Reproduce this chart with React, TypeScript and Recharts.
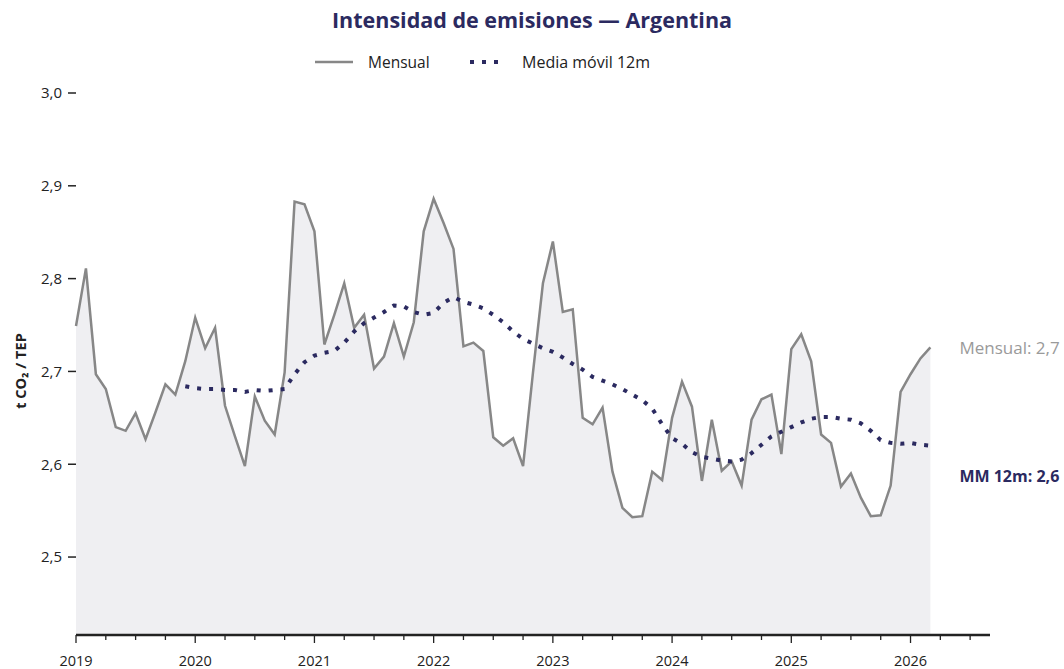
import React from 'react';
import { ComposedChart, Area, Line, XAxis, YAxis, LabelList } from 'recharts';

const START_YEAR = 2019;

// t CO2 / TEP, mensual (ene 2019 – mar 2026)
const mensual = [
  2.749, 2.811, 2.697, 2.681, 2.640, 2.636, 2.655, 2.627, 2.656, 2.686, 2.675, 2.711,
  2.758, 2.725, 2.747, 2.663, 2.630, 2.598, 2.673, 2.647, 2.632, 2.699, 2.883, 2.880,
  2.851, 2.729, 2.761, 2.795, 2.747, 2.761, 2.703, 2.716, 2.752, 2.716, 2.753, 2.851,
  2.886, 2.860, 2.832, 2.727, 2.731, 2.722, 2.629, 2.620, 2.628, 2.598, 2.699, 2.795,
  2.840, 2.764, 2.767, 2.650, 2.643, 2.661, 2.592, 2.553, 2.543, 2.544, 2.592, 2.583,
  2.650, 2.689, 2.662, 2.582, 2.648, 2.593, 2.603, 2.577, 2.648, 2.670, 2.675, 2.611,
  2.724, 2.740, 2.711, 2.632, 2.623, 2.576, 2.590, 2.564, 2.544, 2.545, 2.577, 2.678,
  2.697, 2.714, 2.726,
];

// media móvil 12 meses (desde dic 2019)
const mediaMovil = [
  2.684,
  2.682, 2.681, 2.681, 2.680, 2.680, 2.678, 2.680, 2.679, 2.680, 2.681, 2.697, 2.710,
  2.717, 2.720, 2.722, 2.731, 2.743, 2.752, 2.758, 2.764, 2.771, 2.770, 2.764, 2.761,
  2.763, 2.774, 2.780, 2.775, 2.772, 2.768, 2.761, 2.753, 2.743, 2.735, 2.730, 2.725,
  2.721, 2.715, 2.708, 2.702, 2.694, 2.690, 2.686, 2.681, 2.675, 2.669, 2.660, 2.643,
  2.628, 2.622, 2.613, 2.608, 2.606, 2.604, 2.603, 2.605, 2.612, 2.621, 2.630, 2.635,
  2.640, 2.645, 2.649, 2.651, 2.651, 2.649, 2.648, 2.644, 2.636, 2.626, 2.623, 2.622,
  2.623, 2.621, 2.620,
];
const MM_START = 11;

const yTicks = [2.5, 2.6, 2.7, 2.8, 2.9, 3.0];
const xTicks = Array.from({ length: 31 }, (_, k) => k * 3);

const data = mensual.map((v, i) => ({
  i,
  mensual: v,
  mm: i >= MM_START ? mediaMovil[i - MM_START] : null,
}));

const LAST = mensual.length - 1;
const FONT = '"Open Sans", sans-serif';
const NAVY = '#2b2a60';
const GRAY = '#878787';

const fmt = (v: number, d = 1) => v.toFixed(d).replace('.', ',');

const XTick = (props: any) => {
  const { x, y, payload } = props;
  const isYear = payload.value % 12 === 0;
  return (
    <g>
      <line x1={x} x2={x} y1={y} y2={y + (isYear ? 8 : 5)} stroke="#222" strokeWidth={1.3} />
      {isYear && (
        <text x={x} y={y + 31} textAnchor="middle" fontSize={14.5} fill="#222" fontFamily={FONT}>
          {START_YEAR + payload.value / 12}
        </text>
      )}
    </g>
  );
};

const EndLabel = (offsetY: number, text: string, color: string, bold: boolean, size: number) => (props: any) => {
  if (props.index !== LAST) return null;
  return (
    <text
      x={props.x + 29}
      y={props.y + offsetY}
      dominantBaseline="central"
      fontSize={size}
      fontWeight={bold ? 700 : 400}
      fill={color}
      fontFamily={FONT}
    >
      {text}
    </text>
  );
};

export default function App() {
  return (
    <div style={{ position: 'absolute', left: 0, top: 0, width: 1064, height: 669, background: '#fff' }}>
      <ComposedChart
        width={1064}
        height={669}
        data={data}
        margin={{ top: 93, right: 74, left: 16, bottom: 4 }}
      >
        <XAxis
          dataKey="i"
          type="number"
          domain={[0, 92]}
          ticks={xTicks}
          interval={0}
          tickSize={0}
          tickMargin={0}
          tickLine={false}
          axisLine={{ stroke: '#222', strokeWidth: 2.5 }}
          tick={<XTick />}
          height={30}
        />
        <YAxis
          type="number"
          domain={[2.416, 3.0]}
          ticks={yTicks}
          allowDataOverflow
          width={60}
          axisLine={false}
          tickSize={8}
          tickMargin={6}
          tickLine={{ stroke: '#222', strokeWidth: 1.5 }}
          tick={{ fontSize: 15, fill: '#222', fontFamily: FONT }}
          tickFormatter={(v: number) => fmt(v)}
          label={{
            content: () => (
              <text
                x={20}
                y={371}
                transform="rotate(-90 20 371)"
                textAnchor="middle"
                dominantBaseline="central"
                fontSize={14.5}
                fontWeight={700}
                fill="#222"
                fontFamily={FONT}
              >
                t CO₂ / TEP
              </text>
            ),
          }}
        />
        <Area
          type="linear"
          dataKey="mensual"
          stroke={GRAY}
          strokeWidth={2.5}
          fill="#efeff2"
          fillOpacity={1}
          dot={false}
          activeDot={false}
          isAnimationActive={false}
        >
          <LabelList dataKey="mensual" content={EndLabel(0, `Mensual: ${fmt(mensual[LAST])}`, '#9a9a9a', false, 17)} />
        </Area>
        <Line
          type="linear"
          dataKey="mm"
          stroke={NAVY}
          strokeWidth={4}
          strokeDasharray="4 8"
          dot={false}
          activeDot={false}
          connectNulls={false}
          isAnimationActive={false}
        >
          <LabelList dataKey="mm" content={EndLabel(30, `MM 12m: ${fmt(mediaMovil[mediaMovil.length - 1])}`, NAVY, true, 16)} />
        </Line>
      </ComposedChart>
      <svg
        width={1064}
        height={90}
        style={{ position: 'absolute', left: 0, top: 0, pointerEvents: 'none' }}
      >
        <text x={532} y={19} textAnchor="middle" dominantBaseline="central" fontSize={21.5} fontWeight={700} fill={NAVY} fontFamily={FONT}>
          Intensidad de emisiones — Argentina
        </text>
        <line x1={315} x2={353} y1={62} y2={62} stroke={GRAY} strokeWidth={2.5} />
        <text x={368} y={62} dominantBaseline="central" fontSize={15.5} fill="#222" fontFamily={FONT}>
          Mensual
        </text>
        <line x1={470} x2={504} y1={62} y2={62} stroke={NAVY} strokeWidth={4} strokeDasharray="4 8" />
        <text x={522} y={62} dominantBaseline="central" fontSize={16} fill="#222" fontFamily={FONT}>
          Media móvil 12m
        </text>
      </svg>
    </div>
  );
}
